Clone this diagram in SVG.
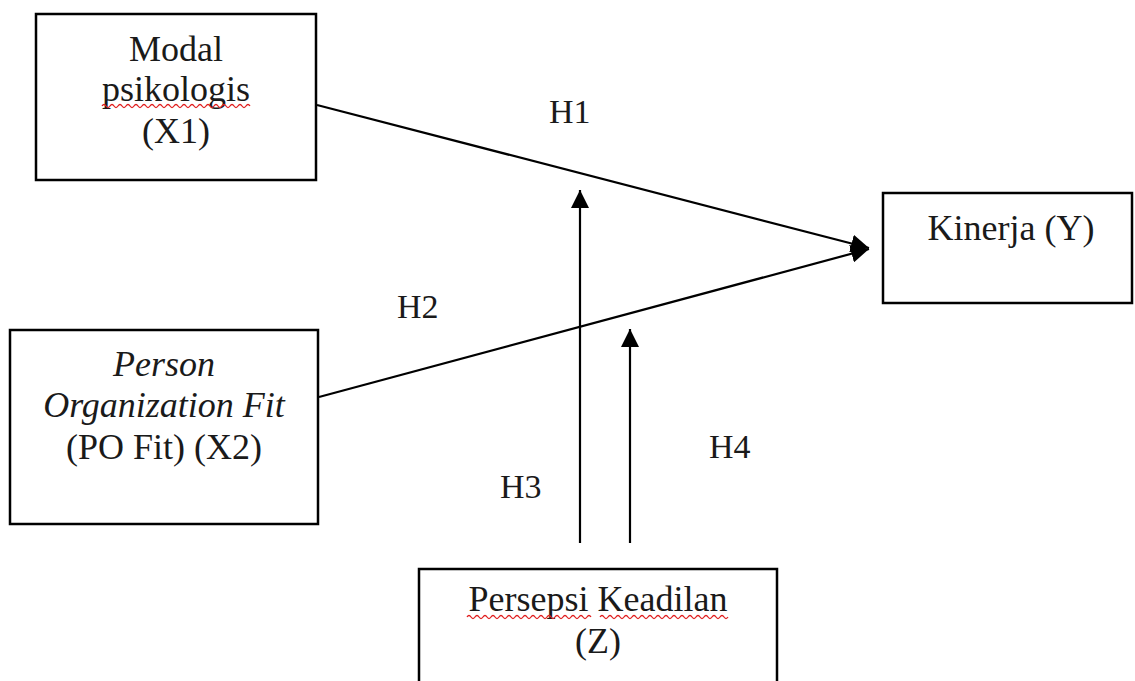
<svg xmlns="http://www.w3.org/2000/svg" width="1135" height="681" viewBox="0 0 1135 681">
<style>
.box{fill:#fff;stroke:#000;stroke-width:2.5}
.t{font-family:"Liberation Serif","Times New Roman",serif;font-size:36px;fill:#1a1a1a;text-anchor:middle}
.h{font-family:"Liberation Serif","Times New Roman",serif;font-size:34px;fill:#1a1a1a}
.i{font-style:italic}
.ln{stroke:#000;stroke-width:2.2;fill:none}
.sq{stroke:#e02020;stroke-width:1.3;fill:none}
</style>
<defs>
<marker id="ah" viewBox="0 0 10 10" refX="10" refY="5" markerWidth="18" markerHeight="18" markerUnits="userSpaceOnUse" orient="auto">
<path d="M0,0 L10,5 L0,10 Z" fill="#000"/>
</marker>
</defs>
<rect width="1135" height="681" fill="#fff"/>
<g id="connectors">
<line class="ln" x1="317" y1="105" x2="869" y2="248" marker-end="url(#ah)"/>
<line class="ln" x1="319" y1="397" x2="869" y2="249" marker-end="url(#ah)"/>
<line class="ln" x1="580" y1="543" x2="580" y2="190" marker-end="url(#ah)"/>
<line class="ln" x1="630" y1="543" x2="630" y2="329" marker-end="url(#ah)"/>
<text class="h" x="549" y="123">H1</text>
<text class="h" x="397" y="318">H2</text>
<text class="h" x="500" y="498">H3</text>
<text class="h" x="709" y="458">H4</text>
</g>
<g id="x1">
<rect class="box" x="36" y="14" width="280" height="166"/>
<text class="t" x="176" y="61">Modal</text>
<text class="t" x="176" y="101">psikologis</text>
<path class="sq" d="M102,106 q2,-3 4,0 t4,0 t4,0 t4,0 t4,0 t4,0 t4,0 t4,0 t4,0 t4,0 t4,0 t4,0 t4,0 t4,0 t4,0 t4,0 t4,0 t4,0 t4,0 t4,0 t4,0 t4,0 t4,0 t4,0 t4,0 t4,0 t4,0 t4,0 t4,0 t4,0 t4,0 t4,0 t4,0 t4,0 t4,0 t4,0 t4,0"/>
<text class="t" x="176" y="143">(X1)</text>
</g>
<g id="x2">
<rect class="box" x="10" y="330" width="308" height="194"/>
<text class="t i" x="164" y="376">Person</text>
<text class="t i" x="164" y="417">Organization Fit</text>
<text class="t" x="164" y="459">(PO Fit) (X2)</text>
</g>
<g id="y">
<rect class="box" x="883" y="193" width="249" height="110"/>
<text class="t" x="1011" y="240">Kinerja (Y)</text>
</g>
<g id="z">
<rect class="box" x="419" y="569" width="358" height="140"/>
<text class="t" x="598" y="611">Persepsi Keadilan</text>
<path class="sq" d="M467,617 q2,-3 4,0 t4,0 t4,0 t4,0 t4,0 t4,0 t4,0 t4,0 t4,0 t4,0 t4,0 t4,0 t4,0 t4,0 t4,0 t4,0 t4,0 t4,0 t4,0 t4,0 t4,0 t4,0 t4,0 t4,0 t4,0 t4,0 t4,0 t4,0 t4,0 t4,0 t4,0"/>
<path class="sq" d="M600,617 q2,-3 4,0 t4,0 t4,0 t4,0 t4,0 t4,0 t4,0 t4,0 t4,0 t4,0 t4,0 t4,0 t4,0 t4,0 t4,0 t4,0 t4,0 t4,0 t4,0 t4,0 t4,0 t4,0 t4,0 t4,0 t4,0 t4,0 t4,0 t4,0 t4,0 t4,0 t4,0 t4,0"/>
<text class="t" x="598" y="653">(Z)</text>
</g>
</svg>
